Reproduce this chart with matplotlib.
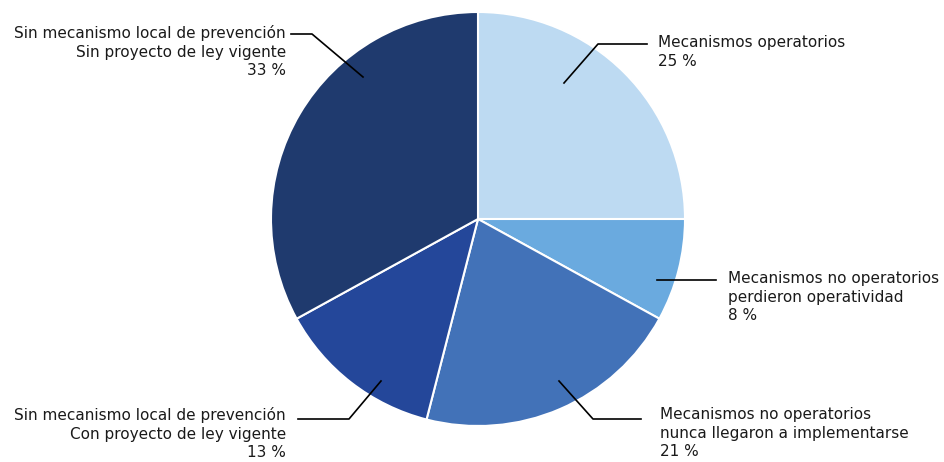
import matplotlib.pyplot as plt
import numpy as np

# data, clockwise from 12 o'clock
labels = ['Mecanismos operatorios',
          'Mecanismos no operatorios\nperdieron operatividad',
          'Mecanismos no operatorios\nnunca llegaron a implementarse',
          'Sin mecanismo local de prevención\nCon proyecto de ley vigente',
          'Sin mecanismo local de prevención\nSin proyecto de ley vigente']
values = [25, 8, 21, 13, 33]
colors = ['#BDDAF2', '#6AAADF', '#4272B8', '#24479A', '#1F3A6E']

W, H = 944, 462
cx, cy, R = 478, 219, 207

def px(x, y):
    # pixel -> pie units
    return ((x - cx) / R, (cy - y) / R)

# leader line points (pixels): start, elbow, end ; text anchor & alignment
leaders = [
    ((564, 83), (598, 44), (647, 44), (658, 44), 'left'),
    ((657, 280), (690, 280), (716, 280), (728, 280), 'left'),
    ((559, 381), (593, 419), (641, 419), (660, 416), 'left'),
    ((381, 381), (349, 419), (298, 419), (286, 416), 'right'),
    ((363, 77), (312, 34), (291, 34), (286, 34), 'right'),
]

fig = plt.figure(figsize=(W / 100, H / 100), dpi=100)
ax = fig.add_axes([(cx - R) / W, (H - cy - R) / H, 2 * R / W, 2 * R / H])
ax.pie(values, colors=colors, startangle=90, counterclock=False, radius=1,
       wedgeprops=dict(edgecolor='white', linewidth=1.5))
ax.set_xlim(-1, 1)
ax.set_ylim(-1, 1)
ax.set_aspect('equal')
ax.axis('off')

for lab, v, (p0, p1, p2, pt, ha) in zip(labels, values, leaders):
    pts = np.array([px(*p0), px(*p1), px(*p2)])
    ax.plot(pts[:, 0], pts[:, 1], color='black', lw=1.2, clip_on=False)
    tx, ty = px(*pt)
    ax.text(tx, ty + 9 / R, lab + '\n' + f'{v} %', ha=ha, va='top',
            fontsize=11, family='DejaVu Sans', color='#1a1a1a',
            linespacing=1.3, multialignment=ha, clip_on=False)

fig.savefig('out.png', dpi=100)
